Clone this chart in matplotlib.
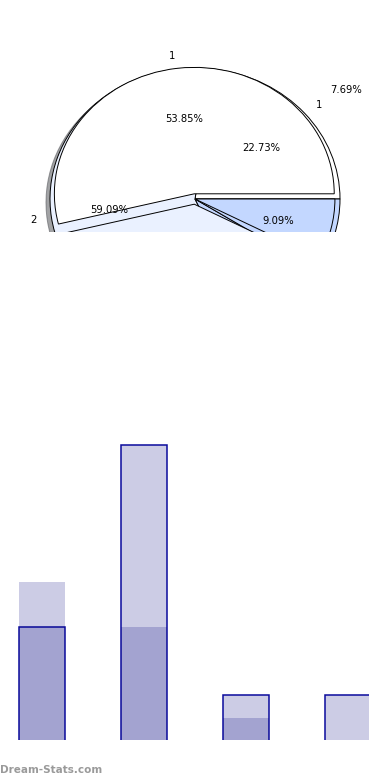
import matplotlib
matplotlib.use('Agg')
import matplotlib.pyplot as plt

# two series, same categories
cats = ['1', '2', '3', '4']
series_a = [5, 13, 2, 2]   # outlined bars, lower pie
series_b = [7, 5, 1, 0]    # plain bars, upper pie

pie_colors = ['#FFFFFF', '#EAF1FF', '#C3D7FF', '#C3D7FF']

fig = plt.figure(figsize=(3.9, 7.8), dpi=100)

# ---- pies (clipped at bottom) ----
ax1 = fig.add_axes([0, 1 - 232 / 780, 1, 232 / 780])
w2, t2, p2 = ax1.pie(series_a, labels=cats, colors=pie_colors, autopct='%.2f%%',
                     startangle=0, counterclock=True, shadow=True,
                     textprops={'fontsize': 7.2},
                     wedgeprops={'edgecolor': 'black', 'linewidth': 0.7})

b_vals = [v for v in series_b if v > 0]
b_cats = [c for c, v in zip(cats, series_b) if v > 0]
w1, t1, p1 = ax1.pie(b_vals, labels=b_cats, colors=pie_colors[:len(b_vals)],
                     autopct='%.2f%%', startangle=0, radius=0.965,
                     explode=[0.04, 0.04, 0.0], shadow=False,
                     textprops={'fontsize': 7.2},
                     wedgeprops={'edgecolor': 'black', 'linewidth': 0.7})
# the small slice's percent sits out to the upper right in the reference
p1[2].set_position((1.04, 0.83))
t1[2].set_visible(False)

ax1.set_aspect('auto')
ax1.set_xlim(-195 / 145, 195 / 145)
ax1.set_ylim(-33 / 131, 199 / 131)
for art in list(ax1.patches) + list(ax1.texts):
    art.set_clip_path(ax1.patch)
    art.set_clip_on(True)

# ---- overlapping bars ----
ax2 = fig.add_axes([0, 40 / 780, 369 / 390, 300 / 780])
x = range(len(cats))
ax2.bar(x, series_a, width=0.45, color=(0, 0, 0.5, 0.2), edgecolor='#0A0A9C', linewidth=1.1)
ax2.bar(x, series_b, width=0.45, color=(0, 0, 0.5, 0.2), linewidth=0)
ax2.set_xlim(-0.412, 3.206)
ax2.set_ylim(0.04, 300 / 22.77 + 0.04)
ax2.axis('off')

fig.text(0.0, 1 - 770 / 780, 'Dream-Stats.com', color='#9A9A9A', fontsize=7.5,
         fontweight='bold', va='center', ha='left')

fig.savefig('out.png', dpi=100)
